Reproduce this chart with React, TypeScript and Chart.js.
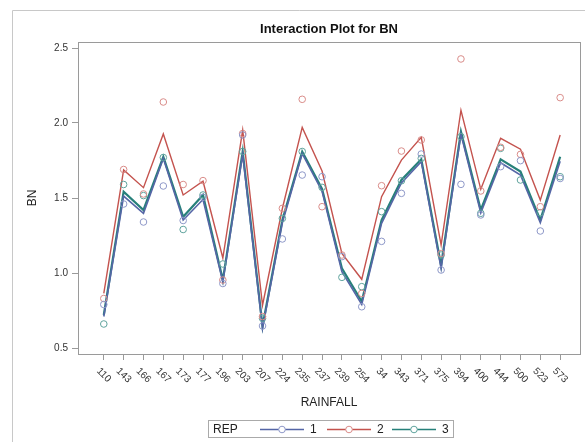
import React, { useEffect, useRef } from 'react';
import { Chart, registerables } from 'chart.js';
Chart.register(...registerables);

const categories = ['110','143','166','167','173','177','196','203','207','224','235','237','239','254','34','343','371','375','394','400','444','500','523','573'];

// fitted lines per REP
const rep1Fit = [0.71,1.513,1.398,1.764,1.353,1.49,0.94,1.79,0.63,1.335,1.795,1.545,1.009,0.79,1.331,1.60,1.742,1.03,1.925,1.40,1.735,1.653,1.335,1.745];
const rep2Fit = [0.864,1.687,1.569,1.927,1.52,1.612,1.10,1.953,0.785,1.43,1.971,1.68,1.131,0.958,1.509,1.753,1.904,1.187,2.085,1.558,1.898,1.825,1.486,1.92];
const rep3Fit = [0.72,1.542,1.42,1.775,1.375,1.52,0.953,1.809,0.645,1.353,1.809,1.56,1.031,0.81,1.353,1.62,1.758,1.05,1.942,1.42,1.758,1.676,1.353,1.775];

// observed values per REP
const rep1Obs = [0.79,1.46,1.34,1.58,1.35,1.505,0.93,1.92,0.647,1.227,1.653,1.642,1.109,0.775,1.211,1.531,1.793,1.02,1.591,1.387,1.709,1.749,1.28,1.63];
const rep2Obs = [0.83,1.69,1.527,2.14,1.59,1.616,0.953,1.93,0.71,1.431,2.158,1.442,1.12,0.864,1.582,1.813,1.887,1.13,2.427,1.547,1.838,1.791,1.442,2.169];
const rep3Obs = [0.66,1.59,1.516,1.77,1.29,1.52,1.06,1.81,0.698,1.364,1.81,1.571,0.971,0.909,1.409,1.615,1.764,1.12,1.909,1.398,1.831,1.62,1.402,1.642];

const yTicks = [0.5, 1.0, 1.5, 2.0, 2.5];
const repNames = ['1', '2', '3'];

const lineColors = ['#5566a6', '#c4534e', '#27807a'];
const markerColors = ['#8e98c8', '#d98c89', '#5fa39d'];
const FONT = '"Liberation Sans", Arial, sans-serif';
const FRAME = '#9a9a9a';

const toPts = (arr: number[]) => arr.map((v, i) => ({ x: i, y: v }));

const decorPlugin = {
  id: 'decor',
  afterDraw(chart: any) {
    const ctx = chart.ctx as CanvasRenderingContext2D;
    const area = chart.chartArea;
    const xs = chart.scales.x;
    ctx.save();
    // outer border
    ctx.strokeStyle = '#c8c8c8';
    ctx.lineWidth = 1;
    ctx.beginPath();
    ctx.moveTo(12.5, 445);
    ctx.lineTo(12.5, 10.5);
    ctx.lineTo(590, 10.5);
    ctx.stroke();
    // plot frame
    ctx.strokeStyle = FRAME;
    ctx.strokeRect(Math.round(area.left) + 0.5, Math.round(area.top) + 0.5, Math.round(area.right - area.left), Math.round(area.bottom - area.top));
    // title
    ctx.fillStyle = '#111';
    ctx.font = 'bold 13px ' + FONT;
    ctx.textAlign = 'center';
    ctx.textBaseline = 'middle';
    ctx.fillText('Interaction Plot for BN', (area.left + area.right) / 2, 29);
    // y title
    ctx.font = '12px ' + FONT;
    ctx.fillStyle = '#222';
    ctx.save();
    ctx.translate(33, (area.top + area.bottom) / 2);
    ctx.rotate(-Math.PI / 2);
    ctx.fillText('BN', 0, 0);
    ctx.restore();
    // x tick labels rotated
    ctx.font = '10px ' + FONT;
    ctx.fillStyle = '#333';
    ctx.textAlign = 'left';
    ctx.textBaseline = 'middle';
    categories.forEach((lab, i) => {
      const px = xs.getPixelForValue(i);
      const w = ctx.measureText(lab).width;
      ctx.save();
      ctx.translate(px - 0.3535 * w, area.bottom + 15.5);
      ctx.rotate(Math.PI / 4);
      ctx.fillText(lab, 0, 0);
      ctx.restore();
    });
    // x title
    ctx.font = '12px ' + FONT;
    ctx.fillStyle = '#222';
    ctx.textAlign = 'center';
    ctx.fillText('RAINFALL', (area.left + area.right) / 2, 403);
    // legend
    ctx.strokeStyle = '#aaaaaa';
    ctx.strokeRect(208.5, 420.5, 245, 17);
    ctx.textAlign = 'left';
    ctx.fillStyle = '#222';
    ctx.fillText('REP', 213, 429.5);
    const starts = [260, 327, 392];
    starts.forEach((sx, k) => {
      ctx.strokeStyle = lineColors[k];
      ctx.lineWidth = 1.5;
      ctx.beginPath();
      ctx.moveTo(sx, 429.5);
      ctx.lineTo(sx + 44, 429.5);
      ctx.stroke();
      ctx.strokeStyle = markerColors[k];
      ctx.lineWidth = 1;
      ctx.fillStyle = '#fff';
      ctx.beginPath();
      ctx.arc(sx + 22, 429.5, 3.3, 0, Math.PI * 2);
      ctx.fill();
      ctx.stroke();
      ctx.fillStyle = '#222';
      ctx.fillText(repNames[k], sx + 50, 430);
    });
    ctx.restore();
  },
};

export default function App() {
  const ref = useRef<HTMLCanvasElement | null>(null);
  useEffect(() => {
    if (!ref.current) return;
    const fits = [rep1Fit, rep2Fit, rep3Fit];
    const obs = [rep1Obs, rep2Obs, rep3Obs];
    const widths = [1.6, 1.4, 2.2];
    const datasets: any[] = [];
    [0, 2, 1].forEach((k) => {
      datasets.push({
        label: repNames[k] + ' fit',
        data: toPts(fits[k]),
        borderColor: lineColors[k],
        borderWidth: widths[k],
        pointRadius: 0,
        fill: false,
        tension: 0,
        order: 2,
      });
    });
    [0, 1, 2].forEach((k) => {
      datasets.push({
        label: repNames[k] + ' obs',
        data: toPts(obs[k]),
        showLine: false,
        pointRadius: 3.3,
        pointStyle: 'circle',
        pointBorderColor: markerColors[k],
        pointBackgroundColor: 'rgba(0,0,0,0)',
        pointBorderWidth: 1,
        order: 1,
      });
    });
    const chart = new Chart(ref.current, {
      type: 'line',
      data: { datasets },
      options: {
        responsive: false,
        animation: false,
        events: [],
        layout: { padding: { left: 0, top: 42, right: 4, bottom: 0 } },
        plugins: { legend: { display: false }, tooltip: { enabled: false }, title: { display: false } },
        scales: {
          x: {
            type: 'linear',
            min: -1.3,
            max: 24.0,
            border: { display: false },
            grid: { display: true, drawOnChartArea: false, drawTicks: true, tickLength: 6, color: FRAME },
            ticks: { display: false },
            afterBuildTicks: (ax: any) => { ax.ticks = categories.map((_, i) => ({ value: i })); },
            afterFit: (s: any) => { s.height = 88; },
          },
          y: {
            type: 'linear',
            min: 0.46,
            max: 2.54,
            border: { display: false },
            grid: { display: true, drawOnChartArea: false, drawTicks: true, tickLength: 6, color: FRAME },
            ticks: {
              callback: (v: any) => Number(v).toFixed(1),
              font: { size: 10, family: FONT },
              color: '#333',
              padding: 4,
            },
            afterBuildTicks: (ax: any) => { ax.ticks = yTicks.map((v) => ({ value: v })); },
            afterFit: (s: any) => { s.width = 78; },
          },
        },
      },
      plugins: [decorPlugin],
    } as any);
    return () => chart.destroy();
  }, []);
  return (
    <div style={{ position: 'fixed', left: 0, top: 0, width: 585, height: 442, background: '#fff' }}>
      <canvas ref={ref} width={585} height={442} style={{ width: 585, height: 442, display: 'block' }} />
    </div>
  );
}
